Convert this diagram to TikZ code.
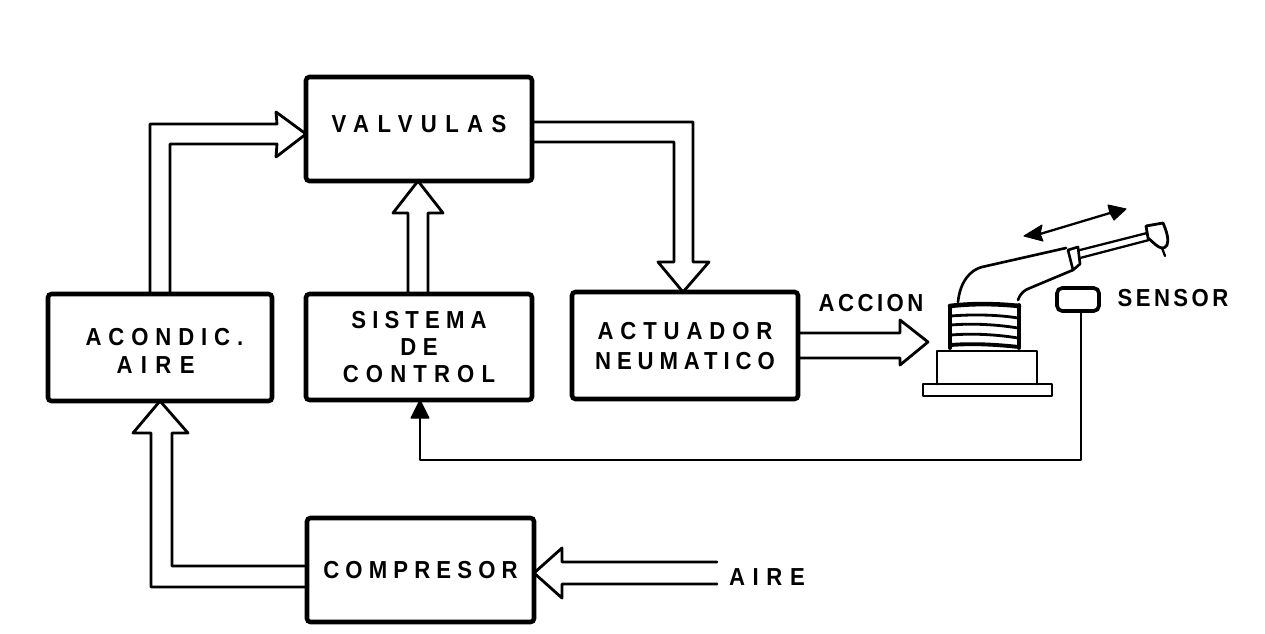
\documentclass[tikz,border=0pt]{standalone}
\usepackage{fontspec}
\usetikzlibrary{calc}
\newfontfamily\stencilfont[FakeStretch=0.9]{Liberation Sans Bold}
\newcommand{\lbl}{\stencilfont\fontsize{14pt}{15.4pt}\selectfont}
\newcommand{\trk}[2]{{\addfontfeature{LetterSpace=#1}#2}}
\newcommand{\nudge}[2]{\raisebox{#1}[\height][\depth]{#2}}
\tikzset{
  x=0.02cm,y=-0.02cm,
  blockbox/.style={draw=black,line width=2.6pt,rounded corners=2pt,inner sep=0pt,outer sep=0pt,align=center,font=\lbl,fill=white},
  hollow/.style={draw=black,line width=1.6pt,line join=round,line cap=round},
  thinline/.style={draw=black,line width=1.3pt,line join=round,line cap=round},
  heavy/.style={draw=black,line width=2.2pt,line join=round,line cap=round},
  lab/.style={font=\lbl,inner sep=0pt,outer sep=0pt},
  solidhead/.style={fill=black,draw=black,line width=0.6pt,line join=round},
}
\begin{document}
\begin{tikzpicture}
\useasboundingbox (0,0) rectangle (1265,633);
% blocks
\node[blockbox,minimum width=226*0.02cm,minimum height=104*0.02cm] (valv) at (419,129) {\nudge{2.8pt}{\trk{34}{VALVULAS}}};
\node[blockbox,minimum width=224*0.02cm,minimum height=107*0.02cm] (acond) at (160,347.5) {\hspace*{5pt}\nudge{-1.5pt}{\trk{28}{ACONDIC.}}\\\nudge{-2pt}{\trk{34}{AIRE}}\hspace*{5pt}};
\node[blockbox,minimum width=226*0.02cm,minimum height=106*0.02cm] (ctrl) at (419,347) {\trk{25}{SISTEMA}\\\trk{26}{DE}\\\trk{29}{CONTROL}};
\node[blockbox,minimum width=226*0.02cm,minimum height=107*0.02cm] (act) at (685,345.5) {\nudge{-0.2pt}{\trk{28}{ACTUADOR}}\\[1.2pt]\nudge{-0.8pt}{\trk{24}{NEUMATICO}}};
\node[blockbox,minimum width=227*0.02cm,minimum height=104*0.02cm] (comp) at (420.5,570) {\trk{25}{COMPRESOR}};
% free labels
\node[lab] (accion) at (871,303) {\trk{14}{ACCION}};
\node[lab] (sensorlab) at (1173,298) {\trk{14}{SENSOR}};
\node[lab] (airein) at (767,577) {\trk{31}{AIRE}};
% sensor
\node[draw=black,line width=2.1pt,rounded corners=3pt,minimum width=42*0.02cm,minimum height=23*0.02cm,inner sep=0pt,outer sep=0pt] (sensor) at (1078,299.5) {};
% hollow arrows
\draw[hollow] (150,0 |- acond.north) -- (150,124) -- (277,124) -- (276,112) -- (302,134 -| valv.west) -- (276,157) -- (277,144) -- (170,144) -- (170,0 |- acond.north);
\draw[hollow] (408,0 |- ctrl.north) -- (408,213) -- (393,213) -- (418,0 |- valv.south) -- (443,213) -- (428,213) -- (428,0 |- ctrl.north);
\draw[hollow] (valv.east |- 0,122) -- (693,122) -- (693,262) -- (709,262) -- (683,0 |- act.north) -- (658,262) -- (674,262) -- (674,142) -- (valv.east |- 0,142);
\draw[hollow] (act.east |- 0,333) -- (900,333) -- (900,320) -- (928,342) -- (900,365) -- (900,358) -- (act.east |- 0,358);
\draw[hollow] (comp.west |- 0,587) -- (151,587) -- (151,433) -- (133,433) -- (160,0 |- acond.south) -- (188,433) -- (172,433) -- (172,566) -- (comp.west |- 0,566);
\coordinate (airetail) at (717,573);
\draw[hollow] (airetail |- 0,562) -- (562,562) -- (562,548) -- (comp.east |- 0,573) -- (562,598) -- (562,584) -- (airetail |- 0,584);
% feedback
\draw[thinline] (sensor.south -| 1081,0) -- (1081,460) -- (420,460) -- (420,416);
\path[solidhead] (411,418) -- (420,0 |- ctrl.south) -- (429,418) -- cycle;
% robot actuator: base
\draw[thinline,line width=1.6pt] (923,384) rectangle (1052,396);
\draw[thinline,line width=1.6pt] (937,384) -- (937,351) -- (1037,351) -- (1037,384);
% bellows
\draw[heavy] (950,348) -- (950,306);
\draw[heavy] (1019,348) -- (1019,305);
\draw[heavy,line width=2.6pt] (950,306) .. controls (975,303) and (1000,304) .. (1019,306);
\draw[heavy,line width=1.6pt] (951,316) .. controls (975,314) and (1000,315) .. (1018,318);
\draw[heavy,line width=1.6pt] (951,325) .. controls (975,323) and (1000,325) .. (1018,328);
\draw[heavy,line width=1.6pt] (951,335) .. controls (975,333) and (1000,335) .. (1018,338);
\draw[heavy,line width=2.2pt] (951,345) .. controls (975,343) and (1000,345) .. (1019,347);
% arm
\draw[thinline,line width=1.5pt] (958,302) .. controls (960,282) and (970,270) .. (982,267) -- (1066,248);
\draw[thinline,line width=1.5pt] (1018,300) .. controls (1021,292) and (1025,290) .. (1030,288) -- (1073,270);
\draw[thinline,line width=1.5pt] (1068,250) -- (1078,247) -- (1080,264) -- (1073,270) -- cycle;
% tool
\draw[thinline] (1080,250) -- (1147,233);
\draw[thinline] (1080,258) -- (1149,240);
\draw[thinline,line width=1.6pt] (1146,226) -- (1163,223) .. controls (1167,232) and (1169,240) .. (1167,245) .. controls (1164,250) and (1160,248) .. (1156,245) -- (1148,238) -- cycle;
\draw[thinline] (1162,248) -- (1165,256);
% motion double arrow
\draw[thinline] (1040,234) -- (1110,213);
\path[solidhead] (1024,236) -- (1042,225) -- (1040,234) -- (1043,241) -- cycle;
\path[solidhead] (1126,209) -- (1108,205) -- (1110,213) -- (1114,220) -- cycle;
\end{tikzpicture}
\end{document}
